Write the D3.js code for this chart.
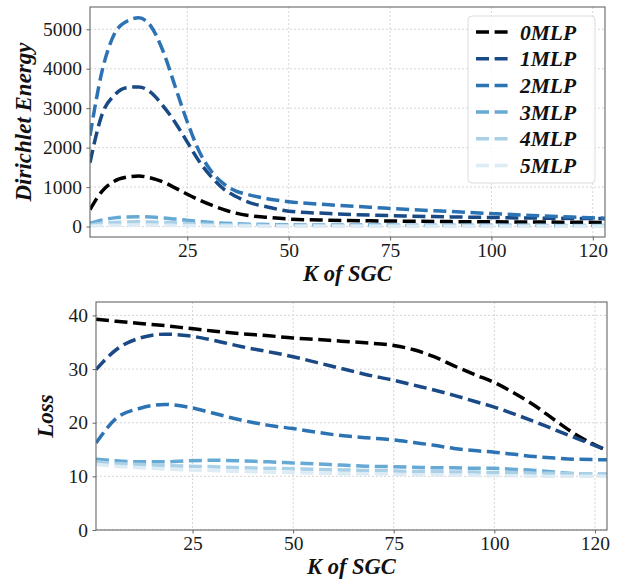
<!DOCTYPE html>
<html>
<head>
<meta charset="utf-8">
<script src="https://cdn.jsdelivr.net/npm/d3@7"></script>
<style>
  html, body { margin: 0; padding: 0; background: #fff; }
  svg { display: block; }
</style>
</head>
<body>
<svg id="chart" width="619" height="579"></svg>
<script>
// Two stacked panels: Dirichlet energy (top) and loss (bottom) against K of SGC,
// one dashed line per number of MLP layers.
var SERIES = ['0MLP', '1MLP', '2MLP', '3MLP', '4MLP', '5MLP'];
var COLORS = ['#000000', '#1a4a86', '#2c73b4', '#66a9d5', '#a9d0e6', '#dcebf4'];

// x tick positions and the labels printed under them (last one reads 120)
var X_TICKS = [25, 50, 75, 100, 125];
var X_TICK_LABELS = ['25', '50', '75', '100', '120'];
var X_DOMAIN = [1, 128];

// top panel: Dirichlet energy
var K_ENERGY = [1, 4, 7, 10, 13, 16, 19, 22, 25, 28, 31, 34, 37, 40, 45, 50, 60, 70, 80, 90, 100, 110, 120, 128];
var ENERGY_0 = [430, 900, 1150, 1250, 1280, 1230, 1130, 980, 820, 670, 540, 430, 340, 280, 230, 190, 160, 145, 135, 125, 120, 115, 110, 105];
var ENERGY_1 = [1620, 2850, 3330, 3520, 3540, 3400, 3060, 2640, 2140, 1640, 1250, 950, 760, 620, 490, 390, 330, 290, 265, 245, 230, 215, 205, 200];
var ENERGY_2 = [2300, 3950, 4880, 5200, 5290, 5080, 4450, 3550, 2650, 1890, 1390, 1080, 900, 810, 700, 630, 550, 490, 430, 380, 330, 280, 240, 210];
var ENERGY_3 = [80, 170, 220, 245, 250, 240, 220, 190, 160, 130, 105, 85, 70, 60, 50, 45, 40, 38, 35, 33, 31, 30, 28, 27];
var ENERGY_4 = [40, 80, 105, 115, 120, 115, 105, 92, 78, 65, 54, 45, 38, 33, 28, 25, 22, 20, 19, 18, 17, 16, 15, 15];
var ENERGY_5 = [12, 25, 33, 37, 38, 36, 33, 29, 25, 21, 18, 15, 13, 11, 10, 9, 8, 7, 7, 6, 6, 6, 5, 5];
var ENERGY_TICKS = [0, 1000, 2000, 3000, 4000, 5000];
var ENERGY_DOMAIN = [-265, 5565];

// bottom panel: loss
var K_LOSS = [1, 6, 12, 18, 24, 30, 37, 44, 50, 56, 62, 68, 75, 80, 85, 90, 95, 100, 105, 110, 115, 120, 128];
var LOSS_0 = [39.3, 38.9, 38.5, 38.1, 37.6, 37.1, 36.6, 36.2, 35.8, 35.5, 35.2, 34.9, 34.4, 33.6, 32.3, 30.6, 29.0, 27.5, 25.5, 23.2, 20.5, 17.9, 14.8];
var LOSS_1 = [29.9, 33.6, 35.8, 36.5, 36.2, 35.4, 34.2, 33.2, 32.3, 31.2, 30.1, 29.0, 27.9, 27.0, 26.1, 25.1, 24.0, 22.9, 21.6, 20.2, 18.7, 17.2, 14.9];
var LOSS_2 = [16.2, 20.8, 22.7, 23.4, 22.9, 21.8, 20.5, 19.5, 18.9, 18.2, 17.6, 17.2, 16.8, 16.3, 15.8, 15.2, 14.8, 14.5, 14.1, 13.7, 13.4, 13.2, 13.1];
var LOSS_3 = [13.2, 12.9, 12.7, 12.7, 12.9, 13.0, 12.9, 12.7, 12.5, 12.3, 12.1, 11.9, 11.8, 11.7, 11.6, 11.6, 11.5, 11.5, 11.3, 11.1, 10.8, 10.5, 10.3];
var LOSS_4 = [12.7, 12.4, 12.2, 12.0, 11.9, 11.8, 11.6, 11.5, 11.4, 11.3, 11.2, 11.1, 11.0, 10.9, 10.9, 10.8, 10.8, 10.7, 10.7, 10.6, 10.6, 10.5, 10.5];
var LOSS_5 = [12.2, 11.9, 11.6, 11.4, 11.2, 11.1, 10.9, 10.8, 10.7, 10.6, 10.5, 10.5, 10.4, 10.3, 10.3, 10.2, 10.2, 10.1, 10.1, 10.0, 10.0, 10.0, 10.0];
var LOSS_TICKS = [0, 10, 20, 30, 40];
var LOSS_DOMAIN = [0, 42.5];

(function () {
    var svg = d3.select('#chart');
    var LW = 3.5;
    var DASH = '13,5.6';
    var SERIF = "'Liberation Serif', 'Times New Roman', Times, serif";

    function tickText(sel) {
        sel.attr('fill', '#1a1a1a')
            .style('font-family', SERIF)
            .style('font-size', '19.5px');
    }
    function titleText(sel, size) {
        sel.attr('fill', '#111')
            .style('font-family', SERIF)
            .style('font-size', size + 'px')
            .style('font-weight', 'bold')
            .style('font-style', 'italic');
    }

    function drawPanel(p) {
        var x = d3.scaleLinear().domain(X_DOMAIN).range([p.left, p.right]);
        var y = d3.scaleLinear().domain(p.domain).range([p.bottom, p.top]);
        var g = svg.append('g');

        g.append('clipPath').attr('id', p.id + '-clip')
            .append('rect')
            .attr('x', p.left).attr('y', p.top)
            .attr('width', p.right - p.left).attr('height', p.bottom - p.top);

        // grid (dotted, light grey)
        var grid = g.append('g')
            .attr('stroke', '#cccccc').attr('stroke-width', 0.8)
            .attr('stroke-dasharray', '2,2');
        X_TICKS.forEach(function (v) {
            grid.append('line')
                .attr('x1', x(v)).attr('x2', x(v))
                .attr('y1', p.top).attr('y2', p.bottom);
        });
        p.ticks.forEach(function (v) {
            grid.append('line')
                .attr('x1', p.left).attr('x2', p.right)
                .attr('y1', y(v)).attr('y2', y(v));
        });

        // short outward ticks + labels; the spines are drawn as a frame below
        var ax = g.append('g').attr('transform', 'translate(0,' + p.bottom + ')')
            .call(d3.axisBottom(x).tickValues(X_TICKS)
                .tickFormat(function (d, i) { return X_TICK_LABELS[i]; })
                .tickSize(3.5).tickPadding(3));
        ax.select('.domain').remove();
        ax.selectAll('.tick line').attr('stroke', '#666');
        ax.selectAll('text').call(tickText);

        var ay = g.append('g').attr('transform', 'translate(' + p.left + ',0)')
            .call(d3.axisLeft(y).tickValues(p.ticks).tickFormat(d3.format('d'))
                .tickSize(3.5).tickPadding(4.5));
        ay.select('.domain').remove();
        ay.selectAll('.tick line').attr('stroke', '#666');
        ay.selectAll('text').call(tickText);

        // lines
        var line = d3.line()
            .x(function (d) { return x(d[0]); })
            .y(function (d) { return y(d[1]); })
            .curve(d3.curveMonotoneX);
        var lines = g.append('g').attr('clip-path', 'url(#' + p.id + '-clip)');
        p.series.forEach(function (vals, i) {
            var pts = p.k.map(function (k, j) { return [k, vals[j]]; });
            lines.append('path').datum(pts)
                .attr('fill', 'none')
                .attr('stroke', COLORS[i])
                .attr('stroke-width', LW)
                .attr('stroke-dasharray', DASH)
                .attr('d', line);
        });

        // frame
        g.append('rect')
            .attr('x', p.left).attr('y', p.top)
            .attr('width', p.right - p.left).attr('height', p.bottom - p.top)
            .attr('fill', 'none').attr('stroke', '#666').attr('stroke-width', 1.1);

        // titles
        g.append('text')
            .attr('x', (p.left + p.right) / 2).attr('y', p.xTitleY)
            .attr('text-anchor', 'middle')
            .call(titleText, 22.5)
            .text('K of SGC');
        g.append('text')
            .attr('transform', 'translate(' + p.yTitleX + ',' + ((p.top + p.bottom) / 2) + ') rotate(-90)')
            .attr('text-anchor', 'middle')
            .call(titleText, 23)
            .text(p.yTitle);
    }

    drawPanel({
        id: 'energy', left: 90, right: 605, top: 7, bottom: 237,
        domain: ENERGY_DOMAIN, ticks: ENERGY_TICKS, k: K_ENERGY,
        series: [ENERGY_0, ENERGY_1, ENERGY_2, ENERGY_3, ENERGY_4, ENERGY_5],
        xTitleY: 281, yTitleX: 31, yTitle: 'Dirichlet Energy'
    });
    drawPanel({
        id: 'loss', left: 96, right: 607, top: 302, bottom: 530,
        domain: LOSS_DOMAIN, ticks: LOSS_TICKS, k: K_LOSS,
        series: [LOSS_0, LOSS_1, LOSS_2, LOSS_3, LOSS_4, LOSS_5],
        xTitleY: 573.5, yTitleX: 53, yTitle: 'Loss'
    });

    // legend on the top panel
    var lg = svg.append('g').attr('transform', 'translate(468,16)');
    lg.append('rect')
        .attr('width', 127).attr('height', 167).attr('rx', 4)
        .attr('fill', '#fff').attr('fill-opacity', 0.85)
        .attr('stroke', '#dcdcdc').attr('stroke-width', 1);
    SERIES.forEach(function (name, i) {
        var cy = 16 + i * 26.7;
        lg.append('line')
            .attr('x1', 8).attr('x2', 41)
            .attr('y1', cy).attr('y2', cy)
            .attr('stroke', COLORS[i]).attr('stroke-width', LW)
            .attr('stroke-dasharray', DASH);
        lg.append('text')
            .attr('x', 52).attr('y', cy).attr('dy', '0.35em')
            .call(titleText, 21.5)
            .text(name);
    });
})();
</script>
</body>
</html>
